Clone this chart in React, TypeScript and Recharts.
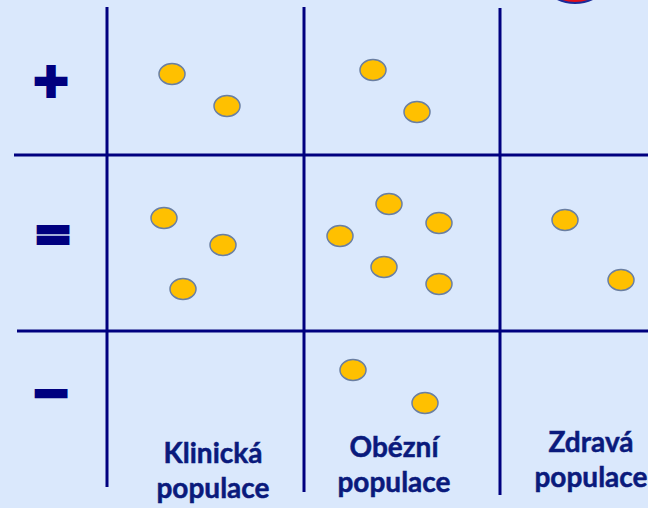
import { ScatterChart, Scatter, XAxis, YAxis, ReferenceLine } from 'recharts'

const NAVY = '#00007f'
const TEXT = '#0a1a7c'
const BG = '#dae8fc'
const YELLOW = '#ffc000'

// schematic plane (x to the right, y downwards)
const klinicka = [
    { x: 172, y: 74 }, { x: 227, y: 106 },
    { x: 164, y: 218 }, { x: 223, y: 245 }, { x: 183, y: 289 },
]
const obezni = [
    { x: 373, y: 70 }, { x: 417, y: 112 },
    { x: 389, y: 204 }, { x: 439, y: 223 }, { x: 340, y: 236 }, { x: 384, y: 267 }, { x: 439, y: 284 },
    { x: 353, y: 370 }, { x: 425, y: 403 },
]
const zdrava = [{ x: 565, y: 220 }, { x: 621, y: 280 }]
const redMark = [{ x: 575, y: -37 }]

const columns = ['Klinická', 'Obézní', 'Zdravá']
const columnX = [213, 394, 591]
const columnY = [463, 457, 452]

const rowSigns = ['+', '=', '\u2212']
const rowSignX = [51, 53, 51]
const rowSignY = [80, 234, 392]

const colBorders = [107, 304, 500]
const colTop = [7, 7, 8]
const colBottom = [487, 492, 495]
const rowBorders = [155, 331]
const rowStart = [14, 17]

const columnLabels = columns.map((name, i) => ({ x: columnX[i], y: columnY[i], name }))
const signs = rowSigns.map((name, i) => ({ x: rowSignX[i], y: rowSignY[i], name }))

const Dot = (p: any) => (
    <ellipse cx={p.cx} cy={p.cy} rx={13} ry={10.5} fill={YELLOW} stroke="#6a7fa2" strokeWidth={1.5} />
)

const RedDot = (p: any) => (
    <circle cx={p.cx} cy={p.cy} r={40} fill="#e0101c" stroke="#1a2a9a" strokeWidth={2} />
)

const ColumnLabel = (p: any) => (
    <text x={p.cx} y={p.cy} textAnchor="middle" fill={TEXT} stroke={TEXT} strokeWidth={0.5}
        style={{ fontFamily: 'Lato', fontWeight: 700, fontSize: 28 }}>
        <tspan x={p.cx}>{p.payload.name}</tspan>
        <tspan x={p.cx} dy={35}>populace</tspan>
    </text>
)

const Sign = (p: any) => (
    <text x={p.cx} y={p.cy + 16} textAnchor="middle" fill={NAVY} stroke={NAVY} strokeWidth={4}
        style={{ fontFamily: 'DejaVu Sans', fontWeight: 700, fontSize: 46 }}>
        {p.payload.name}
    </text>
)

const App = () => {
    return (
        <div style={{ position: 'fixed', left: 0, top: 0, width: 648, height: 508, background: BG }}>
            <ScatterChart width={648} height={508} margin={{ top: 0, right: 0, bottom: 0, left: 0 }}>
                <XAxis type="number" dataKey="x" domain={[0, 648]} allowDataOverflow hide />
                <YAxis type="number" dataKey="y" domain={[0, 508]} allowDataOverflow reversed hide />
                {colBorders.map((x, i) => (
                    <ReferenceLine key={'c' + i} segment={[{ x, y: colTop[i] }, { x, y: colBottom[i] }]}
                        stroke={NAVY} strokeWidth={3} ifOverflow="visible" />
                ))}
                {rowBorders.map((y, i) => (
                    <ReferenceLine key={'r' + i} segment={[{ x: rowStart[i], y }, { x: 648, y }]}
                        stroke={NAVY} strokeWidth={3} ifOverflow="visible" />
                ))}
                <Scatter data={klinicka} shape={Dot} isAnimationActive={false} />
                <Scatter data={obezni} shape={Dot} isAnimationActive={false} />
                <Scatter data={zdrava} shape={Dot} isAnimationActive={false} />
                <Scatter data={redMark} shape={RedDot} isAnimationActive={false} />
                <Scatter data={columnLabels} shape={ColumnLabel} isAnimationActive={false} />
                <Scatter data={signs} shape={Sign} isAnimationActive={false} />
            </ScatterChart>
        </div>
    )
}

export default App
